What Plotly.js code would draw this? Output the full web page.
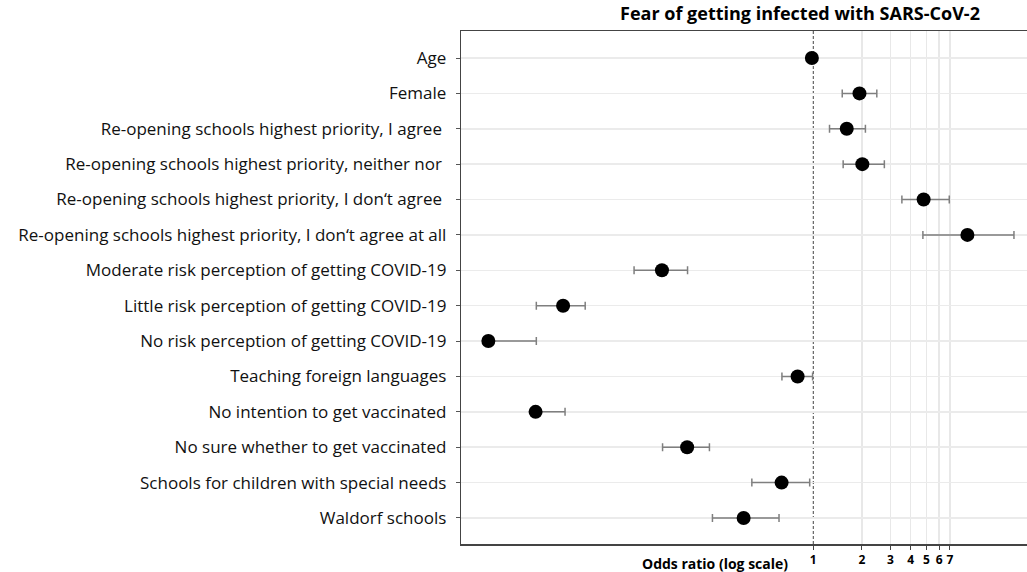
<!DOCTYPE html>
<html>
<head>
<meta charset="utf-8">
<script src="https://cdn.plot.ly/plotly-3.0.1.min.js"></script>
<style>html,body{margin:0;padding:0;background:#fff;}#chart{width:1027px;height:572px;}</style>
</head>
<body>
<div id="chart"></div>
<script>
const categories = [
  "Age",
  "Female",
  "Re-opening schools highest priority, I agree ",
  "Re-opening schools highest priority, neither nor ",
  "Re-opening schools highest priority, I don\u2018t agree ",
  "Re-opening schools highest priority, I don\u2018t agree at all",
  "Moderate risk perception of getting COVID-19",
  "Little risk perception of getting COVID-19",
  "No risk perception of getting COVID-19",
  "Teaching foreign languages",
  "No intention to get vaccinated",
  "No sure whether to get vaccinated",
  "Schools for children with special needs",
  "Waldorf schools"
];
const oddsRatio = [0.98, 1.93, 1.61, 2.01, 4.81, 8.97, 0.116, 0.0284, 0.0098, 0.80, 0.0192, 0.166, 0.637, 0.371];
const ciLower   = [0.97, 1.51, 1.26, 1.53, 3.53, 4.76, 0.078, 0.0194, 0.0098, 0.64, 0.0190, 0.117, 0.417, 0.238];
const ciUpper   = [0.99, 2.47, 2.10, 2.75, 6.93, 17.4, 0.167, 0.0389, 0.0194, 0.99, 0.0292, 0.228, 0.95, 0.614];
const xTickVals = [1, 2, 3, 4, 5, 6, 7];
const xTickText = ["1", "2", "3", "4", "5", "6", "7"];
const xGridVals = [2, 3, 4, 5, 6, 7];
const titleText = "Fear of getting infected with SARS-CoV-2";
const xLabelText = "Odds ratio (log scale)";

const errPlus = oddsRatio.map((v, i) => ciUpper[i] - v);
const errMinus = oddsRatio.map((v, i) => v - ciLower[i]);

const trace = {
  type: 'scatter',
  mode: 'markers',
  x: oddsRatio,
  y: categories,
  marker: {color: '#000000', size: 14},
  error_x: {
    type: 'data', symmetric: false,
    array: errPlus, arrayminus: errMinus,
    color: '#7f7f7f', thickness: 1.5, width: 4
  },
  hoverinfo: 'x+y',
  showlegend: false,
  cliponaxis: true
};

const W = 1027, L = 461;
const FONT = '"Open Sans", Lato, sans-serif';
const layout = {
  width: 1027, height: 572,
  margin: {l: L, r: 0, t: 31, b: 28, pad: 0},
  paper_bgcolor: '#ffffff', plot_bgcolor: '#ffffff',
  font: {family: FONT, color: '#000000'},
  showlegend: false,
  title: {
    text: '<b>' + titleText + '</b>',
    xref: 'container', yref: 'container',
    x: 800 / W, y: 1 - 14 / 572, xanchor: 'center', yanchor: 'middle',
    font: {size: 18, family: FONT, color: '#000'}
  },
  xaxis: {
    type: 'log',
    range: [Math.log10(0.00664), Math.log10(20.95)],
    tickmode: 'array', tickvals: xTickVals, ticktext: xTickText,
    tickfont: {size: 12, family: FONT, weight: 'bold', color: '#000'},
    ticks: 'outside', ticklen: 4, tickwidth: 1, tickcolor: '#444',
    showgrid: false,
    minor: {tickmode: 'array', tickvals: xGridVals, showgrid: true,
            gridcolor: '#e8e8e8', gridwidth: 1.5, ticks: ''},
    zeroline: false,
    showline: true, linecolor: '#444', linewidth: 1.5, mirror: true,
    fixedrange: true
  },
  yaxis: {
    type: 'category',
    categoryorder: 'array', categoryarray: categories,
    range: [categories.length - 1 + 0.735, -0.763],
    tickfont: {size: 17, family: FONT, color: '#111'},
    ticks: 'outside', ticklen: 4, tickwidth: 1, tickcolor: '#555',
    ticklabelstandoff: 6,
    showgrid: true, gridcolor: '#ebebeb', gridwidth: 1.5,
    zeroline: false,
    showline: true, linecolor: '#444', linewidth: 1.2,
    fixedrange: true
  },
  shapes: [{
    type: 'line', xref: 'x', yref: 'paper',
    x0: 1, x1: 1, y0: 0, y1: 1,
    line: {color: '#444', width: 1, dash: '3px,2px'},
    layer: 'between'
  }],
  annotations: [{
    text: '<b>' + xLabelText + '</b>',
    xref: 'paper', yref: 'paper',
    x: (790 - L) / (W - L), y: 0, xanchor: 'right', yanchor: 'top',
    yshift: -8, showarrow: false,
    font: {size: 14, family: FONT, color: '#000'}
  }]
};

Plotly.newPlot('chart', [trace], layout, {staticPlot: true, displayModeBar: false});
</script>
</body>
</html>
